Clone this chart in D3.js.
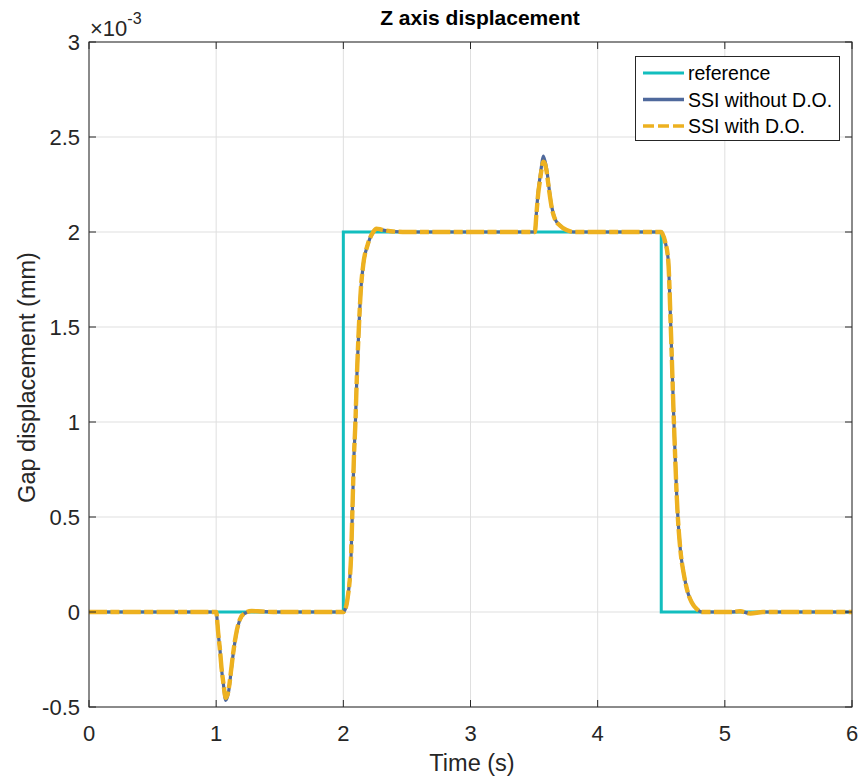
<!DOCTYPE html>
<html>
<head>
<meta charset="utf-8">
<script src="https://cdn.jsdelivr.net/npm/d3@7"></script>
<style>
  html, body { margin: 0; padding: 0; background: #ffffff; }
  svg { display: block; font-family: "Liberation Sans", Arial, Helvetica, sans-serif; }
</style>
</head>
<body>
<svg id="chart" width="860" height="776"></svg>
<script>
// Gap displacement values are stored in units of 1e-3 mm (axis exponent shown as ×10^-3).
const axisExponent = -3;

// Reference step command
const refTime  = [0, 2, 2, 4.5, 4.5, 6];
const refValue = [0, 0, 2, 2, 0, 0];

// Shared time base of the two SSI responses (s)
const ssiTime = [
  0, 1.0, 1.003, 1.016, 1.03, 1.043, 1.056, 1.075, 1.10, 1.116, 1.134, 1.16, 1.187, 1.226, 1.28, 1.35, 1.45,
  2.0, 2.012, 2.033, 2.06, 2.072, 2.083, 2.094, 2.107, 2.123, 2.136, 2.157, 2.19, 2.235, 2.26, 2.30, 2.37, 2.5,
  3.5, 3.506, 3.519, 3.532, 3.545, 3.559, 3.572, 3.585, 3.598, 3.618, 3.637, 3.664, 3.703, 3.755, 3.807,
  4.5, 4.51, 4.53, 4.555, 4.575, 4.6, 4.627, 4.65, 4.68, 4.71, 4.74, 4.78, 4.82, 4.9,
  5.05, 5.12, 5.2, 5.3, 5.45, 6.0
];

// SSI without disturbance observer
const ssiNoDO = [
  0, 0, -0.01, -0.11, -0.20, -0.305, -0.375, -0.465, -0.41, -0.32, -0.22, -0.11, -0.04, -0.007, 0.005, 0.003, 0,
  0, 0.01, 0.07, 0.28, 0.55, 0.81, 0.98, 1.25, 1.51, 1.68, 1.83, 1.93, 2.0, 2.018, 2.012, 2.004, 2.0,
  2.0, 2.0, 2.107, 2.212, 2.28, 2.35, 2.40, 2.375, 2.335, 2.23, 2.14, 2.07, 2.035, 2.01, 2.0,
  2.0, 1.99, 1.95, 1.85, 1.50, 0.99, 0.54, 0.33, 0.19, 0.10, 0.05, 0.015, 0.0, 0,
  0, 0.004, -0.008, 0, 0, 0
];

// SSI with disturbance observer
const ssiDO = [
  0, 0, -0.01, -0.11, -0.20, -0.30, -0.37, -0.452, -0.40, -0.315, -0.215, -0.105, -0.038, -0.006, 0.005, 0.003, 0,
  0, 0.01, 0.07, 0.28, 0.55, 0.81, 0.98, 1.25, 1.51, 1.68, 1.83, 1.93, 2.0, 2.018, 2.012, 2.004, 2.0,
  2.0, 2.0, 2.10, 2.20, 2.265, 2.33, 2.37, 2.36, 2.32, 2.22, 2.135, 2.068, 2.034, 2.01, 2.0,
  2.0, 1.99, 1.95, 1.85, 1.50, 0.99, 0.54, 0.33, 0.19, 0.10, 0.05, 0.015, 0.0, 0,
  0, 0.004, -0.008, 0, 0, 0
];

// Axis ticks
const xTicks = [0, 1, 2, 3, 4, 5, 6];
const yTicks = [-0.5, 0, 0.5, 1, 1.5, 2, 2.5, 3];
const yTickLabels = ["-0.5", "0", "0.5", "1", "1.5", "2", "2.5", "3"];

const seriesNames = ["reference", "SSI without D.O.", "SSI with D.O."];

const colors = { ref: "#12BEBE", noDO: "#4F699C", withDO: "#EDB120" };

const svg = d3.select("#chart");
const margin = { left: 89, right: 8, top: 42, bottom: 69 };
const W = 860, H = 776;
const pw = W - margin.left - margin.right;
const ph = H - margin.top - margin.bottom;

const x = d3.scaleLinear().domain([0, 6]).range([margin.left, margin.left + pw]);
const y = d3.scaleLinear().domain([-0.5, 3]).range([margin.top + ph, margin.top]);

const textColor = "#262626";

// Grid
const grid = svg.append("g");
grid.selectAll(".gx").data(xTicks).join("line")
  .attr("x1", d => x(d)).attr("x2", d => x(d))
  .attr("y1", margin.top).attr("y2", margin.top + ph)
  .attr("stroke", "#dfdfdf").attr("stroke-width", 1);
grid.selectAll(".gy").data(yTicks).join("line")
  .attr("x1", margin.left).attr("x2", margin.left + pw)
  .attr("y1", d => y(d)).attr("y2", d => y(d))
  .attr("stroke", "#dfdfdf").attr("stroke-width", 1);

// Clip for data lines
svg.append("clipPath").attr("id", "plotClip").append("rect")
  .attr("x", margin.left).attr("y", margin.top).attr("width", pw).attr("height", ph);

const plot = svg.append("g").attr("clip-path", "url(#plotClip)");

const stepLine = d3.line().x(d => x(d[0])).y(d => y(d[1]));
const smoothLine = d3.line().x(d => x(d[0])).y(d => y(d[1])).curve(d3.curveMonotoneX);

plot.append("path")
  .datum(refTime.map((t, i) => [t, refValue[i]]))
  .attr("d", stepLine)
  .attr("fill", "none").attr("stroke", colors.ref).attr("stroke-width", 3);

plot.append("path")
  .datum(ssiTime.map((t, i) => [t, ssiNoDO[i]]))
  .attr("d", smoothLine)
  .attr("fill", "none").attr("stroke", colors.noDO).attr("stroke-width", 3.2);

plot.append("path")
  .datum(ssiTime.map((t, i) => [t, ssiDO[i]]))
  .attr("d", smoothLine)
  .attr("fill", "none").attr("stroke", colors.withDO).attr("stroke-width", 4.4)
  .attr("stroke-dasharray", "18 3.4 9 3.4");

// Axes box
svg.append("rect")
  .attr("x", margin.left).attr("y", margin.top).attr("width", pw).attr("height", ph)
  .attr("fill", "none").attr("stroke", textColor).attr("stroke-width", 1);

// Inward ticks on all four sides
const tickLen = 7;
const ticks = svg.append("g").attr("stroke", textColor).attr("stroke-width", 1);
xTicks.forEach(t => {
  ticks.append("line").attr("x1", x(t)).attr("x2", x(t)).attr("y1", margin.top + ph).attr("y2", margin.top + ph - tickLen);
  ticks.append("line").attr("x1", x(t)).attr("x2", x(t)).attr("y1", margin.top).attr("y2", margin.top + tickLen);
});
yTicks.forEach(v => {
  ticks.append("line").attr("x1", margin.left).attr("x2", margin.left + tickLen).attr("y1", y(v)).attr("y2", y(v));
  ticks.append("line").attr("x1", margin.left + pw).attr("x2", margin.left + pw - tickLen).attr("y1", y(v)).attr("y2", y(v));
});

// Tick labels
const tickFont = 22;
svg.append("g").selectAll("text").data(xTicks).join("text")
  .attr("x", d => x(d)).attr("y", margin.top + ph + 34)
  .attr("text-anchor", "middle").attr("font-size", tickFont).attr("fill", textColor)
  .text(d => d);
svg.append("g").selectAll("text").data(yTicks).join("text")
  .attr("x", margin.left - 9).attr("y", d => y(d) + 8)
  .attr("text-anchor", "end").attr("font-size", tickFont).attr("fill", textColor)
  .text((d, i) => yTickLabels[i]);

// Exponent label
const expo = svg.append("text").attr("x", margin.left + 1).attr("y", 36)
  .attr("font-size", 22).attr("fill", textColor);
expo.append("tspan").text("\u00D710");
expo.append("tspan").attr("dy", -12).attr("font-size", 16).text(String(axisExponent));

// Title and axis labels
svg.append("text").attr("x", 480).attr("y", 25)
  .attr("text-anchor", "middle").attr("font-size", 21).attr("font-weight", "bold").attr("fill", "#000")
  .text("Z axis displacement");
svg.append("text").attr("x", 472).attr("y", 771)
  .attr("text-anchor", "middle").attr("font-size", 23.5).attr("fill", textColor)
  .text("Time (s)");
svg.append("text")
  .attr("transform", `translate(35, ${margin.top + ph / 2 + 3}) rotate(-90)`)
  .attr("text-anchor", "middle").attr("font-size", 23.5).attr("fill", textColor)
  .text("Gap displacement (mm)");

// Legend
const lg = svg.append("g");
lg.append("rect").attr("x", 635.5).attr("y", 56.5).attr("width", 204).attr("height", 84)
  .attr("fill", "#fff").attr("stroke", textColor).attr("stroke-width", 1);
const legendRows = [
  { name: seriesNames[0], color: colors.ref, w: 3, dash: null },
  { name: seriesNames[1], color: colors.noDO, w: 3.4, dash: null },
  { name: seriesNames[2], color: colors.withDO, w: 3.4, dash: "11 4" }
];
legendRows.forEach((r, i) => {
  const cy = 73 + i * 26.5;
  lg.append("line").attr("x1", 643).attr("x2", 684).attr("y1", cy).attr("y2", cy)
    .attr("stroke", r.color).attr("stroke-width", r.w)
    .attr("stroke-dasharray", r.dash);
  lg.append("text").attr("x", 688).attr("y", cy + 7).attr("font-size", 19.5).attr("fill", "#000")
    .text(r.name);
});
</script>
</body>
</html>
